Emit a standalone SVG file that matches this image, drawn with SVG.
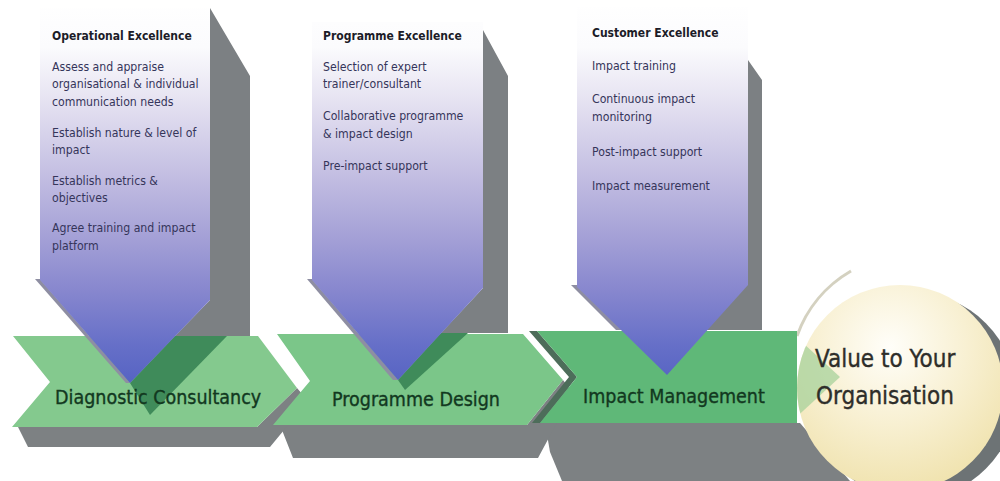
<svg xmlns="http://www.w3.org/2000/svg" width="1000" height="481" viewBox="0 0 1000 481">
<defs>
<linearGradient id="blue" gradientUnits="userSpaceOnUse" x1="0" y1="0" x2="0" y2="390">
<stop offset="0" stop-color="#ffffff"/>
<stop offset="0.12" stop-color="#fbfbfd"/>
<stop offset="0.25" stop-color="#e7e4f2"/>
<stop offset="0.45" stop-color="#c3bee2"/>
<stop offset="0.6" stop-color="#a6a2d7"/>
<stop offset="0.75" stop-color="#8686ce"/>
<stop offset="0.88" stop-color="#6770c8"/>
<stop offset="1" stop-color="#5361c2"/>
</linearGradient>
<radialGradient id="cream" cx="0.45" cy="0.3" r="0.75">
<stop offset="0" stop-color="#fffef9"/>
<stop offset="0.5" stop-color="#f8f0d2"/>
<stop offset="1" stop-color="#efe1aa"/>
</radialGradient>
<clipPath id="circ"><circle cx="900" cy="388" r="103"/></clipPath>
<style>
.side{fill:#7c8083}
.shadow{fill:#7d8183}
.dk{fill:#3f8b5a}
.edge{fill:#8e8ea2}
.body{fill:url(#blue)}
.h{font-family:"DejaVu Sans Condensed","Liberation Sans",sans-serif;font-size:12px;font-weight:bold;fill:#1c1c28}
.t{font-family:"DejaVu Sans Condensed","Liberation Sans",sans-serif;font-size:12.2px;fill:#35355a}
.lab{font-family:"DejaVu Sans Condensed","Liberation Sans",sans-serif;font-size:19.5px;fill:#12381f;stroke:#12381f;stroke-width:0.35}
.val{font-family:"DejaVu Sans Condensed","Liberation Sans",sans-serif;font-size:24px;fill:#2e2e2a;stroke:#2e2e2a;stroke-width:0.35}
</style>
</defs>
<rect width="1000" height="481" fill="#ffffff"/>

<g id="shadows">
<polygon class="shadow" points="545,423 800,423 850,481 562,481 550,452"/>
<polygon class="shadow" points="280,425 527,425 563,380 573,393 538,458 293,458"/>
<polygon class="shadow" points="18,427 257,427 297,388 308,401 270,447 28,447"/>
</g>

<g id="value-shape">
<circle cx="913" cy="396" r="103" fill="#6d7375"/>
<circle cx="900" cy="388" r="103" fill="url(#cream)"/>
<path d="M 851 271 A 122 122 0 0 0 797 336" fill="none" stroke="#c9c5b0" stroke-width="3" opacity="0.8"/>
</g>

<g id="stage-diagnostic">
<polygon points="13,336 258,336 297,388 257,427 12,427 50,382" fill="#84c98e"/>
</g>
<g id="stage-design">
<polygon points="277,334 523,334 563,380 527,425 273,425 310,381" fill="#7bc689"/>
</g>
<g id="stage-impact">
<polygon points="529,331 537,331 577,377 540,423 532,423 569,377" fill="#4d6d5a"/>
<polygon points="537,331 797,331 797,423 540,423 577,377" fill="#5fb878"/>
</g>

<g id="value">
<polygon points="790,331 840,377 790,423" fill="#a7d29b" opacity="0.75" clip-path="url(#circ)"/>
<text class="val" x="815" y="367">Value to Your</text>
<text class="val" x="816" y="404">Organisation</text>
</g>

<g id="arrow-operational">
<polygon class="side" points="210,8 250,76 250,336 175,336 210,300"/>
<polygon class="dk" points="175,336 227,336 150,415 130,383"/>
<polygon class="edge" points="35,279 40,279 130,383 126,383"/>
<polygon class="body" points="40,8 210,8 210,300 130,383 40,280"/>
<text class="h" x="52" y="40">Operational Excellence</text>
<text class="t" x="52" y="70.5">Assess and appraise</text>
<text class="t" x="52" y="88">organisational &amp; individual</text>
<text class="t" x="52" y="105.5">communication needs</text>
<text class="t" x="52" y="136.5">Establish nature &amp; level of</text>
<text class="t" x="52" y="154">impact</text>
<text class="t" x="52" y="184.5">Establish metrics &amp;</text>
<text class="t" x="52" y="202">objectives</text>
<text class="t" x="52" y="232">Agree training and impact</text>
<text class="t" x="52" y="249.5">platform</text>
</g>

<g id="arrow-programme">
<polygon class="side" points="483,30 508,76 508,333 441,333 483,288"/>
<polygon class="dk" points="441,333 468,333 405,390 398,380"/>
<polygon class="edge" points="307,279 312,279 398,380 393,380"/>
<polygon class="body" points="312,22 483,22 483,288 398,380 312,280"/>
<text class="h" x="323" y="39.5">Programme Excellence</text>
<text class="t" x="323" y="70.5">Selection of expert</text>
<text class="t" x="323" y="88">trainer/consultant</text>
<text class="t" x="323" y="120">Collaborative programme</text>
<text class="t" x="323" y="137.5">&amp; impact design</text>
<text class="t" x="323" y="169.5">Pre-impact support</text>
</g>

<g id="arrow-customer">
<polygon class="side" points="748,60 762,80 762,330 700,330 748,200"/>
<polygon class="edge" points="571,285 577,285 624,330 616,330"/>
<polygon class="body" points="577,7 748,7 748,285 667,375 577,287"/>
<text class="h" x="592" y="36.5">Customer Excellence</text>
<text class="t" x="592" y="69.5">Impact training</text>
<text class="t" x="592" y="103">Continuous impact</text>
<text class="t" x="592" y="120.5">monitoring</text>
<text class="t" x="592" y="155.5">Post-impact support</text>
<text class="t" x="592" y="189.5">Impact measurement</text>
</g>

<g id="stage-labels">
<text class="lab" x="55" y="404">Diagnostic Consultancy</text>
<text class="lab" x="332" y="406">Programme Design</text>
<text class="lab" x="583" y="403">Impact Management</text>
</g>

<g id="connectors"></g>
</svg>
